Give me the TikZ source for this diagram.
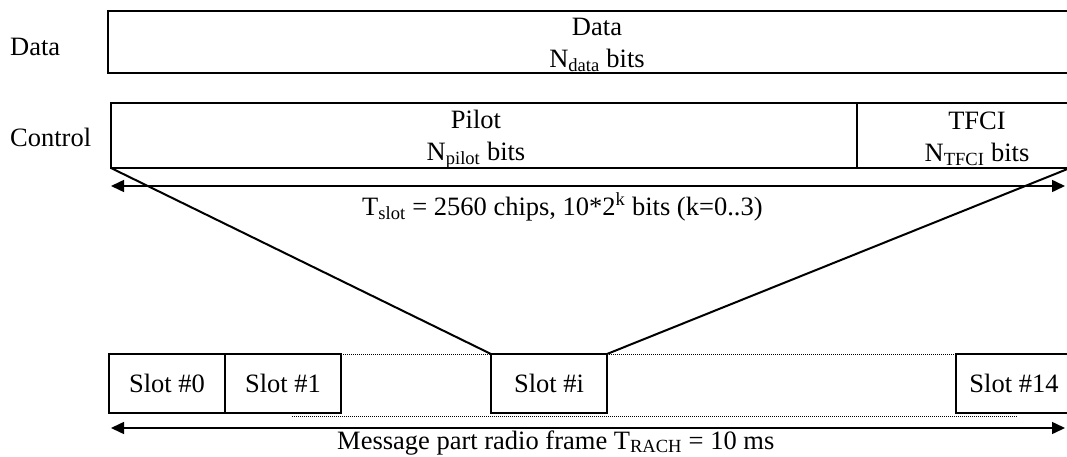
\documentclass[tikz,border=0pt]{standalone}
\usepackage{fontspec}
\setmainfont{Liberation Serif}
\usetikzlibrary{arrows.meta,positioning}

\tikzset{
	field/.style={draw, line width=1.5pt, outer sep=0pt, anchor=north west, align=center},
	slotbox/.style={field, minimum width=116pt, minimum height=59pt},
	span/.style={line width=1.5pt, {Triangle[length=13pt,width=12pt]}-{Triangle[length=13pt,width=12pt]}},
	fan/.style={line width=2pt},
	gap/.style={line width=0.8pt, dash pattern=on 1pt off 1pt}
}

\begin{document}
\begin{tikzpicture}[x=1pt,y=-1pt,inner sep=0pt,font=\fontsize{26.5}{32}\selectfont]
			\useasboundingbox (0,0) rectangle (1067,457);
			\clip (0,0) rectangle (1067,457);
			% channel rows
			\node[anchor=west] (datalbl) at (10,47) {Data};
			\node[anchor=west] (ctrllbl) at (10,137) {Control};
			\node[field, minimum width=980pt, minimum height=62pt] (data) at (108,11) {};
			\node[align=center] (datatxt) at (597,45) {Data\\N\textsubscript{data} bits};
			\node[field, minimum width=746pt, minimum height=65pt] (pilot) at (111,103) {};
			\node[field, minimum width=213pt, minimum height=65pt, right=0pt of pilot] (tfci) {};
			\node[align=center] (pilottxt) at (476,139) {Pilot\\N\textsubscript{pilot} bits};
			\node[align=center] (tfcitxt) at (977,139) {TFCI\\N\textsubscript{TFCI} bits};
			\coordinate (sl) at (111,186);
			\coordinate (sr) at (1065,186);
			\draw[span] (sl) -- (sr);
			\node[anchor=base west] (slottxt) at (362,215) {T\textsubscript{slot} = 2560 chips, 10*2\textsuperscript{k} bits (k=0..3)};
			% radio frame
			\node[slotbox] (s0) at (109,354) {Slot \#0};
			\node[slotbox, right=0pt of s0] (s1) {Slot \#1};
			\node[slotbox] (si) at (491,354) {Slot \#i};
			\node[slotbox] (s14) at (956,354) {Slot \#14};
			\draw[gap] (s1.north east) -- (si.north west);
			\draw[gap] (si.north east) -- (s14.north west);
			\coordinate (dl) at (292,416);
			\coordinate (dr) at (1018,416);
			\draw[gap] (dl) -- (dr);
			\draw[fan] (pilot.south west) -- (si.north west);
			\draw[fan] (tfci.south east) -- (si.north east);
			\coordinate (fl) at (111,428);
			\coordinate (fr) at (1065,428);
			\draw[span] (fl) -- (fr);
			\node[anchor=base west] (frametxt) at (337,449) {Message part radio frame T\textsubscript{RACH} = 10 ms};
\end{tikzpicture}
\end{document}
